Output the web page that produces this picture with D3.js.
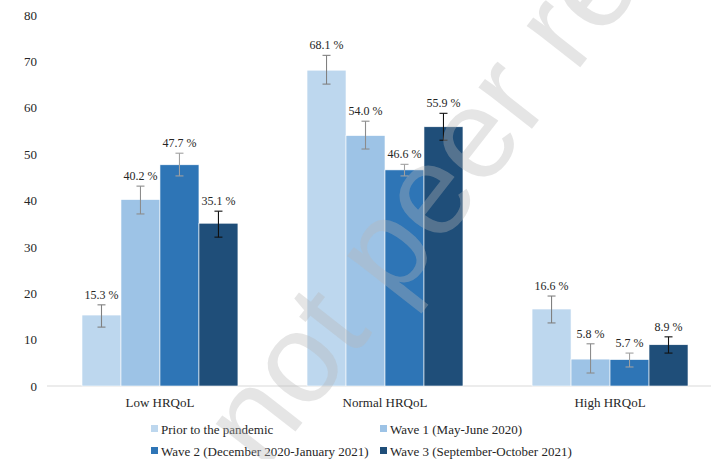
<!DOCTYPE html>
<html>
<head>
<meta charset="utf-8">
<script src="https://cdn.jsdelivr.net/npm/d3@7"></script>
<style>
  body { margin: 0; background: #fff; }
  svg { display: block; }
  text { font-family: "Liberation Serif", "Times New Roman", serif; fill: #262626; }
</style>
</head>
<body>
<svg width="711" height="459"></svg>
<script>
// datos
let grupos = ['Low HRQoL', 'Normal HRQoL', 'High HRQoL']
let series = ['Prior to the pandemic', 'Wave 1 (May-June 2020)',
              'Wave 2 (December 2020-January 2021)', 'Wave 3 (September-October 2021)']
let valores = [
  [15.3, 40.2, 47.7, 35.1],
  [68.1, 54.0, 46.6, 55.9],
  [16.6, 5.8, 5.7, 8.9]
]
let icInf = [
  [12.7, 37.1, 45.3, 32.1],
  [65.1, 51.1, 45.3, 53.0],
  [13.6, 2.8, 4.1, 7.1]
]
let icSup = [
  [17.5, 43.1, 50.2, 37.7],
  [71.3, 57.1, 47.8, 58.8],
  [19.4, 9.1, 7.1, 10.6]
]
let yTicks = [0, 10, 20, 30, 40, 50, 60, 70, 80]

let colores = ['#bdd7ee', '#9dc3e6', '#2e75b6', '#1f4e79']
let coloresError = ['#808080', '#8c8c8c', '#a0a0a0', '#111111']

let svg = d3.select('svg')

let x0 = d3.scaleBand().domain(grupos).range([47.5, 722.5])
  .paddingInner(0.307).paddingOuter(0.1533)
let x1 = d3.scaleBand().domain(d3.range(series.length)).range([0, x0.bandwidth()])
let y = d3.scaleLinear().domain([0, 80]).range([386, 15])

/* Eje Y */
let ejeY = svg.append('g')
  .attr('transform', 'translate(37,0)')
  .call(d3.axisLeft(y).tickValues(yTicks).tickSize(0).tickPadding(0))
ejeY.select('.domain').remove()
ejeY.selectAll('text')
  .style('font-family', '"Liberation Serif", serif')
  .style('font-size', '13px')
  .attr('fill', '#262626')

/* Linea base */
svg.append('line')
  .attr('x1', 47).attr('x2', 711)
  .attr('y1', y(0)).attr('y2', y(0))
  .attr('stroke', '#d9d9d9').attr('stroke-width', 1)

/* Barras */
let filas = grupos.map((g, i) => series.map((s, j) => ({
  g, j, v: valores[i][j], lo: icInf[i][j], hi: icSup[i][j]
})))

let gr = svg.selectAll('g.grupo')
  .data(filas)
  .enter().append('g')
  .attr('class', 'grupo')
  .attr('transform', d => `translate(${x0(d[0].g)},0)`)

gr.selectAll('rect')
  .data(d => d)
  .enter().append('rect')
  .attr('x', d => x1(d.j))
  .attr('width', x1.bandwidth())
  .attr('y', d => y(d.v))
  .attr('height', d => y(0) - y(d.v))
  .attr('fill', d => colores[d.j])
  .attr('stroke', '#fff').attr('stroke-width', 0.6)

/* Barras de error */
let err = gr.selectAll('g.error')
  .data(d => d)
  .enter().append('g')
  .attr('class', 'error')
  .attr('stroke', d => coloresError[d.j])
  .attr('stroke-width', 1.1)

let cx = d => x1(d.j) + x1.bandwidth() / 2
err.append('line')
  .attr('x1', cx).attr('x2', cx)
  .attr('y1', d => y(d.lo)).attr('y2', d => y(d.hi))
err.append('line')
  .attr('x1', d => cx(d) - 4).attr('x2', d => cx(d) + 4)
  .attr('y1', d => y(d.hi)).attr('y2', d => y(d.hi))
err.append('line')
  .attr('x1', d => cx(d) - 4).attr('x2', d => cx(d) + 4)
  .attr('y1', d => y(d.lo)).attr('y2', d => y(d.lo))

/* Etiquetas */
gr.selectAll('text.etiqueta')
  .data(d => d)
  .enter().append('text')
  .attr('class', 'etiqueta')
  .attr('x', cx)
  .attr('y', d => y(d.hi) - 6)
  .attr('text-anchor', 'middle')
  .style('font-size', '12px')
  .text(d => d.v.toFixed(1) + ' %')

/* Categorias */
svg.selectAll('text.categoria')
  .data(grupos)
  .enter().append('text')
  .attr('class', 'categoria')
  .attr('x', d => x0(d) + x0.bandwidth() / 2)
  .attr('y', 407)
  .attr('text-anchor', 'middle')
  .style('font-size', '13px')
  .text(d => d)

/* Leyenda */
let posLeyenda = [[151, 429], [380, 429], [151, 451], [380, 451]]
let ley = svg.selectAll('g.leyenda')
  .data(series)
  .enter().append('g')
  .attr('class', 'leyenda')
  .attr('transform', (d, i) => `translate(${posLeyenda[i][0]},${posLeyenda[i][1]})`)
ley.append('rect')
  .attr('x', 0).attr('y', -4).attr('width', 7).attr('height', 7)
  .attr('fill', (d, i) => colores[i])
ley.append('text')
  .attr('x', 10).attr('y', 4.5)
  .style('font-size', '13px')
  .text(d => d)

/* Marca de agua */
svg.append('text')
  .attr('transform', 'translate(428,262) rotate(-52)')
  .attr('text-anchor', 'middle')
  .style('font-family', '"Liberation Sans", Arial, sans-serif')
  .style('font-size', '128px')
  .style('fill', '#b7b7b7')
  .style('fill-opacity', 0.36)
  .text('Preprint not peer reviewed')
</script>
</body>
</html>
